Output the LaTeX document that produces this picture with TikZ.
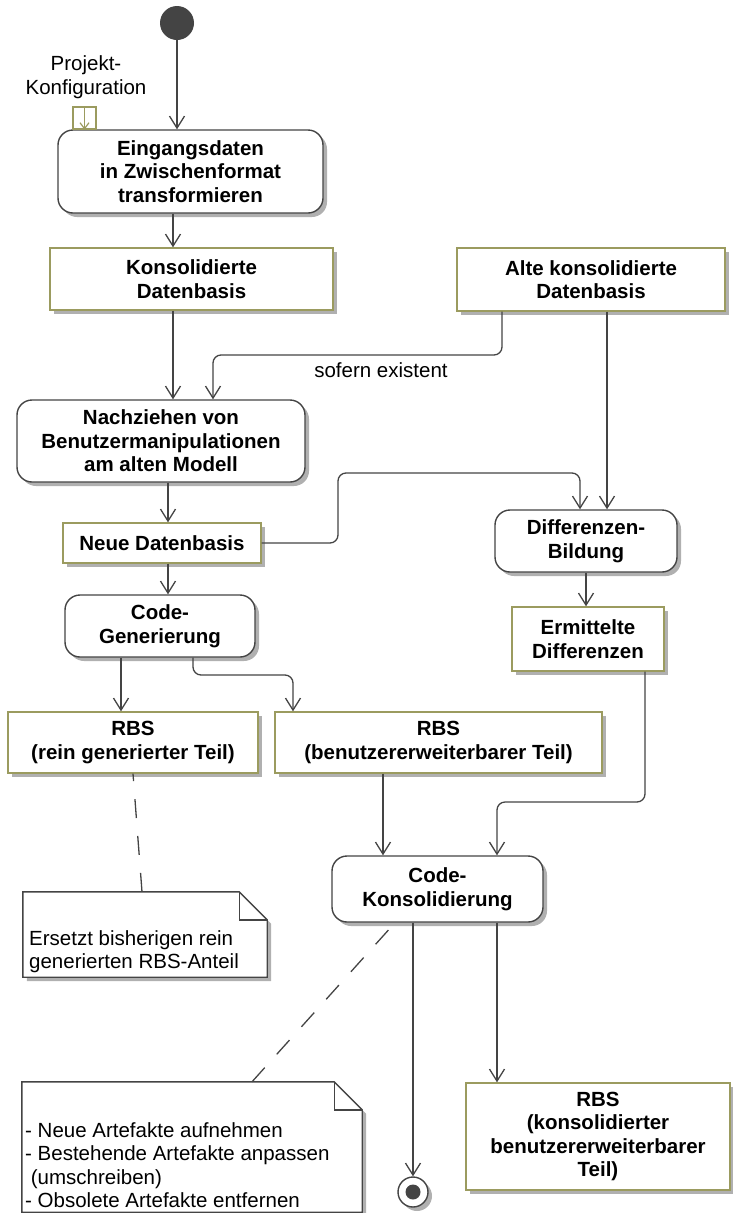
\documentclass[tikz,border=0pt]{standalone}
\usepackage{fontspec}
\setmainfont{Liberation Sans}
\usetikzlibrary{arrows.meta,shadows,calc}

\definecolor{linec}{HTML}{444444}
\definecolor{objc}{RGB}{155,155,95}
\definecolor{shadowc}{HTML}{B0B0B0}

\begin{document}
\begin{tikzpicture}[x=1pt,y=-1pt,
  txt/.style={font=\fontsize{20.5}{23.5}\selectfont},
  btxt/.style={font=\fontsize{20.5}{23.5}\selectfont\bfseries},
  shade/.style={drop shadow={shadow xshift=4pt,shadow yshift=-4pt,fill=shadowc,opacity=1}},
  action/.style={btxt,draw=linec,line width=1.4pt,rounded corners=15pt,fill=white,align=center,inner sep=0pt,shade},
  object/.style={btxt,draw=objc,line width=1.4pt,fill=white,align=center,inner sep=0pt,shade},
  flow/.style={draw=linec,line width=1.3pt,rounded corners=8pt,-{Straight Barb[length=12pt,width=15pt]}},
  anchorline/.style={draw=linec,line width=1.3pt,dash pattern=on 19pt off 18pt},
  notearea/.style={inner sep=0pt},
  notebox/.style={draw=linec,line width=1.4pt,fill=white},
  notetext/.style={txt,align=left,inner sep=0pt,anchor=north west}
]
\useasboundingbox (0,0) rectangle (733,1213);

% initial node and input pin
\node[circle,fill=linec,minimum size=34pt,inner sep=0pt] (start) at (177,23) {};
\node[txt,align=center] (cfg) at (86,77) {Projekt-\\Konfiguration};

% actions
\node[action,minimum width=265pt,minimum height=83pt] (ein) at (190.5,171.5) {Eingangsdaten\\in Zwischenformat\\transformieren};
\node[action,minimum width=288pt,minimum height=82pt] (nach) at (161,441) {Nachziehen von\\Benutzermanipulationen\\am alten Modell};
\node[action,minimum width=182pt,minimum height=62pt] (diff) at (586,541) {Differenzen-\\Bildung};
\node[action,minimum width=190pt,minimum height=62pt] (codegen) at (160,626) {Code-\\Generierung};
\node[action,minimum width=211pt,minimum height=66pt] (codekons) at (437.5,889) {Code-\\Konsolidierung};

% object nodes
\node[object,minimum width=283pt,minimum height=62pt] (kons) at (191.5,279) {Konsolidierte\\Datenbasis};
\node[object,minimum width=268pt,minimum height=63pt] (alt) at (591,279.5) {Alte konsolidierte\\Datenbasis};
\node[object,minimum width=198pt,minimum height=40pt] (neue) at (162,543) {Neue Datenbasis};
\node[object,minimum width=152pt,minimum height=64pt] (ermit) at (588,639) {Ermittelte\\Differenzen};
\node[object,minimum width=250pt,minimum height=61pt] (rein) at (133,742.5) {RBS\\(rein generierter Teil)};
\node[object,minimum width=327pt,minimum height=61pt] (benutz) at (438.5,742.5) {RBS\\(benutzererweiterbarer Teil)};
\node[object,minimum width=264pt,minimum height=107pt] (konsol) at (598,1136.5) {RBS\\(konsolidierter\hspace*{12pt}\\benutzererweiterbarer\hspace*{36pt}\\Teil)};

% input pin on the first action
\node[draw=objc,line width=1.4pt,minimum width=23pt,minimum height=22pt,inner sep=0pt] (pin) at (84.5,118) {};
\draw[objc,line width=1.2pt,-{Straight Barb[length=6pt,width=9pt]}] (pin.north) -- (pin.south);

% final node
\node[circle,draw=linec,line width=1.4pt,fill=white,minimum size=30pt,inner sep=0pt,shade,
  path picture={\fill[linec] (path picture bounding box.center) circle (7.5pt);}] (final) at (413,1192) {};

% notes
\node[notearea,minimum width=244pt,minimum height=85pt] (note1) at (145,934.5) {};
\node[notearea,minimum width=340pt,minimum height=130pt] (note2) at (192,1147) {};
\foreach \n in {note1,note2}{
  \fill[shadowc] ($(\n.north west)+(4,4)$) -- ($(\n.north east)+(-24,4)$) -- ($(\n.north east)+(4,32)$)
    -- ($(\n.south east)+(4,4)$) -- ($(\n.south west)+(4,4)$) -- cycle;
  \draw[notebox] (\n.north west) -- ($(\n.north east)+(-28,0)$) -- ($(\n.north east)+(0,28)$)
    -- (\n.south east) -- (\n.south west) -- cycle;
  \draw[notebox,fill=none] ($(\n.north east)+(-28,0)$) |- ($(\n.north east)+(0,28)$);
}
\node[notetext] (note1text) at (29,930) {Ersetzt bisherigen rein\\generierten RBS-Anteil};
\node[notetext] (note2text) at (25,1122) {- Neue Artefakte aufnehmen\\- Bestehende Artefakte anpassen\\\ (umschreiben)\\- Obsolete Artefakte entfernen};

% control flow
\draw[flow] (start.south) -- (start.south |- ein.north);
\draw[flow] (ein.south -| 173,0) -- (kons.north -| 173,0);
\draw[flow] (kons.south -| 173,0) -- (nach.north -| 173,0);
\draw[flow] (alt.south -| 502,0) |- (213,355) -- (nach.north -| 213,0);
\node[txt] (cond) at (381,370) {sofern existent};
\draw[flow] (nach.south -| 168,0) -- (neue.north -| 168,0);
\draw[flow] (neue.east) -- (338,543) -- (338,473) -- (580,473) -- (diff.north -| 580,0);
\draw[flow] (alt.south -| 607,0) -- (diff.north -| 607,0);
\draw[flow] (neue.south -| 168,0) -- (codegen.north -| 168,0);
\draw[flow] (diff.south) -- (diff.south |- ermit.north);
\draw[flow] (codegen.south -| 121,0) -- (rein.north -| 121,0);
\draw[flow] (codegen.south -| 193,0) -- (193,675) -- (293,675) -- (benutz.north -| 293,0);
\draw[flow] (benutz.south -| 383,0) -- (codekons.north -| 383,0);
\draw[flow] (ermit.south -| 645,0) -- (645,802) -- (497,802) -- (codekons.north -| 497,0);
\draw[flow] (codekons.south -| 413,0) -- (final.north);
\draw[flow] (codekons.south -| 497,0) -- (konsol.north -| 497,0);

% note anchors
\draw[anchorline] (note1.north -| 142,0) -- (rein.south -| 133,0);
\draw[anchorline] (note2.north -| 252,0) -- (codekons.south -| 395,0);
\end{tikzpicture}
\end{document}
